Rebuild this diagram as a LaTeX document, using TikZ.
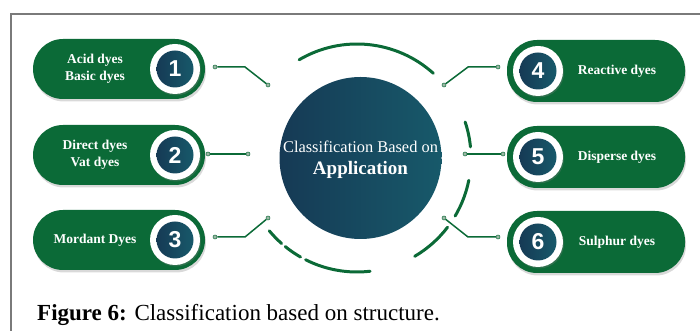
\documentclass[tikz,border=0pt]{standalone}
\usepackage{fontspec}
\setmainfont{Liberation Serif}
\newfontfamily\numfont{Liberation Sans}
\usetikzlibrary{positioning,shadows,calc}
\definecolor{pillc}{HTML}{0B6A37}
\definecolor{navyl}{HTML}{163A55}
\definecolor{navyr}{HTML}{17596A}
\definecolor{framec}{HTML}{7A7A7A}
\definecolor{dotc}{HTML}{9DB8A6}
\begin{document}
\begin{tikzpicture}[x=1pt,y=1pt,pill/.style={fill=pillc,rounded corners=30pt,inner sep=0pt,minimum height=#1,drop shadow={opacity=.3,shadow xshift=1pt,shadow yshift=-2.5pt}},ring/.style={circle,fill=white,minimum size=50pt,inner sep=0pt,drop shadow={opacity=.3,shadow xshift=1pt,shadow yshift=-1.5pt}},num/.style={circle,left color=navyl,right color=navyr,minimum size=37pt,inner sep=0pt,text=white,font=\numfont\bfseries\fontsize{23}{23}\selectfont},lab/.style={text=white,align=center,font=\bfseries\fontsize{13.5}{17}\selectfont},conn/.style={draw=pillc,line width=1.5pt},dot/.style={circle,fill=dotc,draw=pillc,line width=.5pt,minimum size=4pt,inner sep=0pt},rim/.style={draw=pillc,line width=3pt,line cap=round}]
\useasboundingbox (0,0) rectangle (700,331);
\draw[framec,line width=1.5pt] (11,0)--(11,317)--(700,317);
% centre
\node[circle,left color=navyl,right color=navyr,minimum size=162pt,inner sep=0pt] (hub) at (360.5,173) {};
\node[text=white,anchor=base,inner sep=0pt,font=\fontsize{16.4}{20}\selectfont] (hubtop) at (360.5,178) {Classification Based on};
\node[text=white,anchor=base,inner sep=0pt,font=\bfseries\fontsize{19}{22}\selectfont] (hubbot) at (360.5,156) {Application};
\coordinate (A) at (357,173);
\draw[rim] ([shift={(48:114)}]A) arc[start angle=48,end angle=120.5,radius=114pt];
\draw[rim] ([shift={(5.6:114)}]A) arc[start angle=5.6,end angle=18.4,radius=114pt];
\draw[rim] ([shift={(-11.3:114)}]A) arc[start angle=-11.3,end angle=-30.6,radius=114pt];
\draw[rim] ([shift={(-37.4:114)}]A) arc[start angle=-37.4,end angle=-59.6,radius=114pt];
\draw[rim] ([shift={(-140.3:114)}]A) arc[start angle=-140.3,end angle=-131.4,radius=114pt];
\draw[rim] ([shift={(-129:114)}]A) arc[start angle=-129,end angle=-119.7,radius=114pt];
\draw[rim] ([shift={(-116.8:114)}]A) arc[start angle=-116.8,end angle=-83.4,radius=114pt];
% left pills
\node[pill=60pt,minimum width=172pt] (p1) at (119,262) {};
\node[pill=60pt,minimum width=172pt] (p2) at (119,176) {};
\node[pill=60pt,minimum width=172pt] (p3) at (119,91) {};
\node[pill=62pt,minimum width=178pt] (p4) at (596,260) {};
\node[pill=62pt,minimum width=178pt] (p5) at (596,174) {};
\node[pill=62pt,minimum width=178pt] (p6) at (596,89) {};
\foreach \i/\x in {1/175,2/175,3/175,4/538,5/538,6/538}{
  \node[ring] (r\i) at (\x,0|-p\i) {};
  \node[num] (n\i) at (r\i) {\i};}
\node[lab] (t1) at (95,262) {Acid dyes\\Basic dyes};
\node[lab] (t2) at (95,176) {Direct dyes\\Vat dyes};
\node[lab] (t3) at (95,91) {Mordant Dyes};
\node[lab] (t4) at (617,260) {Reactive dyes};
\node[lab] (t5) at (617,174) {Disperse dyes};
\node[lab] (t6) at (617,89) {Sulphur dyes};
% connectors
\node[dot] (a1) at (215,264) {};\node[dot] (b1) at (268,246) {};
\node[dot] (a2) at (208,177) {};\node[dot] (b2) at (248,177) {};
\node[dot] (a3) at (215,94) {};\node[dot] (b3) at (268,113) {};
\node[dot] (a4) at (498,264) {};\node[dot] (b4) at (444,246) {};
\node[dot] (a5) at (503,177) {};\node[dot] (b5) at (465,177) {};
\node[dot] (a6) at (498,94) {};\node[dot] (b6) at (444,113) {};
\draw[conn] (a1)--++(30,0)--(b1);\draw[conn] (a2)--(b2);\draw[conn] (a3)--++(30,0)--(b3);
\draw[conn] (a4)--++(-30,0)--(b4);\draw[conn] (a5)--(b5);\draw[conn] (a6)--++(-30,0)--(b6);
\node[anchor=base west,inner sep=0pt,font=\fontsize{23}{26}\selectfont] (cap) at (37,10) {\textbf{Figure 6:} Classification based on structure.};
\end{tikzpicture}
\end{document}
